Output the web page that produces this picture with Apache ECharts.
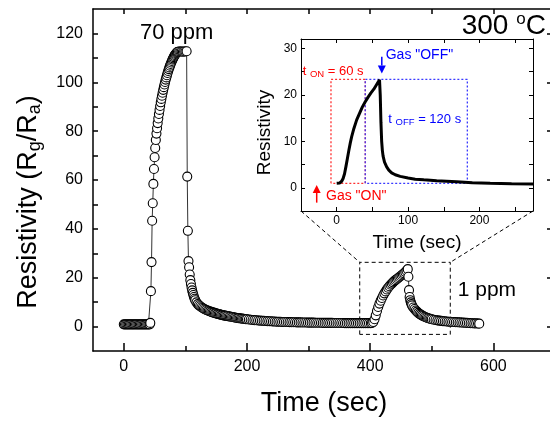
<!DOCTYPE html>
<html><head><meta charset="utf-8">
<script src="https://cdn.jsdelivr.net/npm/echarts@6/dist/echarts.min.js"></script>
<style>html,body{margin:0;padding:0;background:#fff}#c{width:550px;height:421px}</style>
</head><body><div id="c"></div>
<script>
// ---------- DATA ----------
// 70 ppm response: [time (s), Rg/Ra]
const base70 = [[0,0.9],[2,0.9],[4,0.9],[6,0.9],[8,0.9],[10,0.9],[12,0.9],[14,0.9],[16,0.9],[18,0.9],[20,0.9],[22,0.9],[24,0.9],[26,0.9],[28,0.9],[30,0.9],[32,0.9],[34,0.9],[36,0.9],[38,0.9],[40,0.9],[42,0.9]];
const rise70 = [[43,1.5],[44,14.5],[45,26.4],[46,43.3],[47,50.5],[48,58.4],[49,64.5],[50,69.3],[51,73.1],[52,76.4],[53,79.0],[54,81.2],[55,83.3],[56,85.2],[57,87.0],[58,88.7],[59,90.3],[60,91.8],[61,93.2],[62,94.5],[63,95.7],[64,96.9],[65,98.0],[66,99.1],[67,100.1],[68,101.1],[69,102.0],[70,102.9],[71,103.8],[72,104.6],[73,105.4],[74,106.1],[75,106.8],[76,107.5],[77,108.1],[78,108.7],[79,109.3],[80,109.8],[81,110.3],[82,110.8],[83,111.2],[84,111.6],[85,111.9],[86,112.2],[87,112.4],[88,112.5],[90,112.6],[92,112.6],[94,112.6],[96,112.5],[98,112.6],[100,112.6],[102,112.7]];
const decay70 = [[103,61.4],[104,39.2],[105,26.8],[106,24.3],[107,21.3],[108,19.0],[109,17.4],[110,16.0],[111,14.8],[112,13.8],[113,12.9],[114,12.1],[115,11.4],[116,10.8],[118,9.9],[120,9.2],[122,8.7],[124,8.3],[126,7.9],[128,7.6],[130,7.3],[132,7.0],[134,6.8],[136,6.6],[138,6.4],[140,6.2],[142,6.0],[144,5.8],[146,5.7],[148,5.5],[150,5.4],[152,5.2],[154,5.1],[156,5.0],[158,4.8],[160,4.7],[162,4.6],[164,4.5],[166,4.4],[168,4.3],[170,4.2],[172,4.1],[174,4.0],[176,3.9],[178,3.8],[180,3.7],[182,3.6],[184,3.5],[186,3.45],[188,3.4],[190,3.3],[192,3.25],[194,3.2],[196,3.1],[198,3.05],[200,3.0],[203,2.9],[206,2.8],[209,2.7],[212,2.65],[215,2.6],[218,2.5],[221,2.45],[224,2.4],[227,2.35],[230,2.3],[233,2.25],[236,2.2],[239,2.15],[242,2.1],[245,2.05],[248,2.0],[251,2.0],[254,1.95],[257,1.9],[260,1.9],[263,1.85],[266,1.85],[269,1.8],[272,1.8],[275,1.75],[278,1.75],[281,1.7],[284,1.7],[287,1.7],[290,1.65],[293,1.65],[296,1.65],[299,1.6],[302,1.6],[305,1.6],[308,1.6],[311,1.55],[314,1.55],[317,1.55],[320,1.55],[323,1.5],[326,1.5],[329,1.5],[332,1.5],[335,1.5],[338,1.5],[341,1.45],[344,1.45],[347,1.45],[350,1.45],[353,1.45],[356,1.45],[359,1.4],[362,1.4],[365,1.4],[368,1.4],[371,1.4],[374,1.4],[377,1.4],[380,1.4],[383,1.4],[386,1.4],[389,1.4],[392,1.4],[395,1.4],[398,1.4],[401,1.4]];
// 1 ppm response
const resp1 = [[403,1.5],[405,1.9],[407,3.0],[409,4.6],[411,6.4],[413,8.0],[415,9.4],[417,10.6],[419,11.7],[421,12.7],[423,13.6],[425,14.4],[427,15.2],[429,15.9],[431,16.5],[433,17.1],[435,17.6],[437,18.1],[439,18.6],[441,19.0],[443,19.4],[445,19.8],[447,20.2],[449,20.6],[451,21.0],[453,21.4],[455,21.8],[457,22.3],[459,22.9],[461,23.5],[462,20.4],[463,14.9],[464,12.1],[465,10.8],[466,9.9],[467,9.2],[468,8.6],[470,7.8],[472,7.2],[474,6.6],[476,6.1],[478,5.6],[480,5.2],[482,4.9],[484,4.6],[486,4.3],[488,4.0],[490,3.8],[492,3.6],[494,3.4],[496,3.3],[498,3.1],[500,3.0],[503,2.8],[506,2.7],[509,2.55],[512,2.45],[515,2.35],[518,2.25],[521,2.15],[524,2.1],[527,2.0],[530,1.95],[533,1.9],[536,1.85],[539,1.8],[542,1.75],[545,1.7],[548,1.65],[551,1.6],[554,1.55],[557,1.5],[560,1.45],[563,1.4],[566,1.35],[569,1.3],[572,1.3],[575,1.25],[577,1.2]];
// inset: 1 ppm response vs time from gas ON
const insetCurve = [[0,0.95],[4,1.0],[7,1.4],[9,2.0],[11,3.0],[13,4.6],[15,6.3],[17,8.0],[19,9.6],[21,11.0],[24,12.7],[28,14.6],[32,16.0],[36,17.4],[40,18.5],[44,19.5],[48,20.4],[52,21.2],[56,22.2],[60,23.2],[61,20.0],[62,14.0],[63,10.0],[64,8.0],[65,6.8],[67,5.5],[70,4.5],[73,3.8],[77,3.2],[82,2.8],[89,2.45],[100,2.1],[110,1.85],[122,1.7],[140,1.5],[168,1.3],[190,1.1],[215,0.95],[245,0.85],[275,0.8]];
// annotation boxes (data coordinates)
const tOnBox  = [[-8,0.95],[-8,23.3],[40,23.3],[40,0.95],[-8,0.95]];
const tOffBox = [[40,0.95],[40,23.3],[183,23.3],[183,0.95],[40,0.95]];
const zoomBox = [[383,-3.2],[383,26.3],[530,26.3],[530,-3.2],[383,-3.2]];
const gasOnArrow  = [[-28,-3.2],[-28,0.6]];
const gasOffArrow = [[63.2,28.2],[63.2,24.6]];
// axes
const mainXRange = [-50, 700], mainYRange = [-10, 130];
const insetXRange = [-50, 275], insetYRange = [-5, 32];
const mainXLabels = [0,200,400,600];
const mainXMinorTicks = [100,300,500,700];
const mainXTopTicks = [0,100,200,300,400,500,600,700];
const mainYLabels = [0,20,40,60,80,100,120];
const mainYTicks = [0,10,20,30,40,50,60,70,80,90,100,110,120];
const insetXLabels = [0,100,200];
const insetXTicks = [0,50,100,150,200,250];
const insetYLabels = [0,10,20,30];
const insetYTicks = [0,5,10,15,20,25,30];

// ---------- CHART ----------
const FF = 'Arial, "Liberation Sans", Helvetica, sans-serif';
const chart = echarts.init(document.getElementById('c'), null, {renderer: 'canvas'});
const mainData = base70.concat(rise70, decay70, resp1);
const BLK = '#000';
function ax(o) {
  return Object.assign({type: 'value', splitLine: {show: false}, axisLabel: {show: false}}, o);
}
const lineMain = {show: true, onZero: false, lineStyle: {color: BLK, width: 1.5}};
const lineInset = {show: true, onZero: false, lineStyle: {color: BLK, width: 1}};
const tickStyle = (len, vals, w) => ({show: true, inside: true, length: len, customValues: vals, lineStyle: {color: BLK, width: w}});
const lblStyle = (vals, size, margin) => ({show: true, customValues: vals, fontSize: size, margin: margin, color: BLK, fontFamily: FF});

chart.setOption({
  animation: false,
  backgroundColor: '#fff',
  grid: [
    {left: 93, right: -5, top: 9, bottom: 70, containLabel: false, outerBoundsMode: 'none'},
    {left: 301, right: 17, top: 39, bottom: 210, show: true, backgroundColor: '#fff', borderWidth: 0, containLabel: false, outerBoundsMode: 'none'}
  ],
  xAxis: [
    ax({gridIndex: 0, position: 'bottom', min: mainXRange[0], max: mainXRange[1], axisLine: lineMain,
        axisTick: tickStyle(8, mainXLabels, 1.5), axisLabel: lblStyle(mainXLabels, 16, 8),
        name: 'Time (sec)', nameLocation: 'middle', nameGap: 39,
        nameTextStyle: {fontSize: 27, fontFamily: FF, color: BLK}}),
    ax({gridIndex: 0, position: 'bottom', min: mainXRange[0], max: mainXRange[1], axisLine: {show: false, onZero: false},
        axisTick: tickStyle(5, mainXMinorTicks, 1.5)}),
    ax({gridIndex: 0, position: 'top', min: mainXRange[0], max: mainXRange[1], axisLine: lineMain,
        axisTick: tickStyle(5, mainXTopTicks, 1.5)}),
    ax({gridIndex: 1, position: 'bottom', min: insetXRange[0], max: insetXRange[1], axisLine: lineInset,
        axisTick: tickStyle(4, insetXTicks, 1), axisLabel: lblStyle(insetXLabels, 12, 4),
        name: 'Time (sec)', nameLocation: 'middle', nameGap: 22,
        nameTextStyle: {fontSize: 19, fontFamily: FF, color: BLK}}),
    ax({gridIndex: 1, position: 'top', min: insetXRange[0], max: insetXRange[1], axisLine: lineInset,
        axisTick: tickStyle(4, insetXTicks, 1)})
  ],
  yAxis: [
    ax({gridIndex: 0, position: 'left', min: mainYRange[0], max: mainYRange[1], axisLine: lineMain,
        axisTick: tickStyle(5, mainYTicks, 1.5), axisLabel: lblStyle(mainYLabels, 16, 10)}),
    ax({gridIndex: 0, position: 'right', min: mainYRange[0], max: mainYRange[1], axisLine: lineMain,
        axisTick: tickStyle(8, mainYLabels, 1.5)}),
    ax({gridIndex: 1, position: 'left', min: insetYRange[0], max: insetYRange[1], axisLine: lineInset,
        axisTick: tickStyle(4, insetYTicks, 1), axisLabel: lblStyle(insetYLabels, 12, 4)}),
    ax({gridIndex: 1, position: 'right', min: insetYRange[0], max: insetYRange[1], axisLine: lineInset,
        axisTick: tickStyle(4, insetYTicks, 1)})
  ],
  series: [
    {type: 'line', xAxisIndex: 0, yAxisIndex: 0, data: mainData, symbol: 'circle', symbolSize: 9, showSymbol: true,
     itemStyle: {color: '#fff', borderColor: BLK, borderWidth: 1.1}, lineStyle: {color: '#333', width: 1}, silent: true, z: 3},
    {type: 'line', xAxisIndex: 0, yAxisIndex: 0, data: zoomBox, symbol: 'none', silent: true,
     lineStyle: {color: BLK, width: 1, type: [4, 3]}},
    {type: 'line', xAxisIndex: 3, yAxisIndex: 2, data: tOnBox, symbol: 'none', silent: true,
     lineStyle: {color: '#ff3030', width: 1.3, type: [2, 2]}},
    {type: 'line', xAxisIndex: 3, yAxisIndex: 2, data: tOffBox, symbol: 'none', silent: true,
     lineStyle: {color: '#3a3aff', width: 1.3, type: [2, 2]}},
    {type: 'line', xAxisIndex: 3, yAxisIndex: 2, data: insetCurve, symbol: 'none', silent: true, z: 5,
     lineStyle: {color: BLK, width: 3}}
  ]
});

// ---------- annotations placed through the library's scales ----------
const P = (xi, yi, pt) => chart.convertToPixel({xAxisIndex: xi, yAxisIndex: yi}, pt);
const iBL = P(3, 2, [insetXRange[0], insetYRange[0]]);
const iBR = P(3, 2, [insetXRange[1], insetYRange[0]]);
const zTL = P(0, 0, zoomBox[1]);
const zTR = P(0, 0, zoomBox[2]);
function arrow(id, from, to, color) {
  const a = P(3, 2, from), b = P(3, 2, to);
  const dx = b[0] - a[0], dy = b[1] - a[1], L = Math.hypot(dx, dy);
  const ux = dx / L, uy = dy / L, hl = 8, hw = 4;
  const bx = b[0] - ux * hl, by = b[1] - uy * hl;
  return [
    {type: 'line', id: id + 's', shape: {x1: a[0], y1: a[1], x2: bx, y2: by}, style: {stroke: color, lineWidth: 1.5}, z: 20},
    {type: 'polygon', id: id + 'h', shape: {points: [[b[0], b[1]], [bx - uy * hw, by + ux * hw], [bx + uy * hw, by - ux * hw]]}, style: {fill: color}, z: 20}
  ];
}
function txt(id, x, y, text, size, color, extra) {
  return Object.assign({type: 'text', id: id, x: x, y: y, z: 30,
    style: {text: text, font: size + 'px ' + FF, fontSize: size, fontFamily: FF, fill: color,
            align: 'left', verticalAlign: 'middle', textAlign: 'left', textVerticalAlign: 'middle'}}, extra || {});
}
function rtxt(id, x, y, text, rich, align, rotation) {
  return {type: 'text', id: id, x: x, y: y, z: 30, rotation: rotation || 0,
    style: {text: text, rich: rich, align: align, verticalAlign: 'middle', textAlign: align, textVerticalAlign: 'middle'}};
}
const R = (size, color, lh, va) => ({fontSize: size, fontFamily: FF, fill: color, color: color, lineHeight: lh, verticalAlign: va});

chart.setOption({
  graphic: [
    {type: 'line', id: 'c1', shape: {x1: iBL[0], y1: iBL[1], x2: zTL[0], y2: zTL[1]}, style: {stroke: BLK, lineWidth: 1, lineDash: [4, 3]}, z: 10},
    {type: 'line', id: 'c2', shape: {x1: iBR[0], y1: iBR[1], x2: zTR[0], y2: zTR[1]}, style: {stroke: BLK, lineWidth: 1, lineDash: [4, 3]}, z: 10},
    ...arrow('aOn', gasOnArrow[0], gasOnArrow[1], '#ff0000'),
    ...arrow('aOff', gasOffArrow[0], gasOffArrow[1], '#0000ff'),
    txt('t70', 140, 32.5, '70 ppm', 22, BLK),
    txt('t1', 457.7, 290.5, '1 ppm', 21, BLK),
    rtxt('t300', 461.7, 26.3, '{m|300 }{p|o}{m|C}', {m: R(28, BLK, 30), p: R(17, BLK, 19, 'top')}, 'left'),
    txt('gOff', 385.7, 55, 'Gas "OFF"', 14, '#0000ff'),
    txt('gOn', 326, 196.4, 'Gas "ON"', 14, '#ff0000'),
    rtxt('tOn', 302.7, 71.4, '{m|t }{s|ON}{m| = 60 s}', {m: R(13, '#ff0000', 16), s: R(9.5, '#ff0000', 8, 'bottom')}, 'left'),
    rtxt('tOff', 388.3, 119, '{m|t }{s|OFF}{m| = 120 s}', {m: R(13, '#0000ff', 16), s: R(9.5, '#0000ff', 8, 'bottom')}, 'left'),
    rtxt('yTitle', 28.3, 202, '{m|Resistivity (R}{s|g}{m|/R}{s|a}{m|)}', {m: R(27, BLK, 32), s: R(18, BLK, 16, 'bottom')}, 'center', Math.PI / 2),
    rtxt('yInset', 265, 132.5, '{m|Resistivity}', {m: R(19, BLK, 22)}, 'center', Math.PI / 2)
  ]
});
</script>
</body></html>
